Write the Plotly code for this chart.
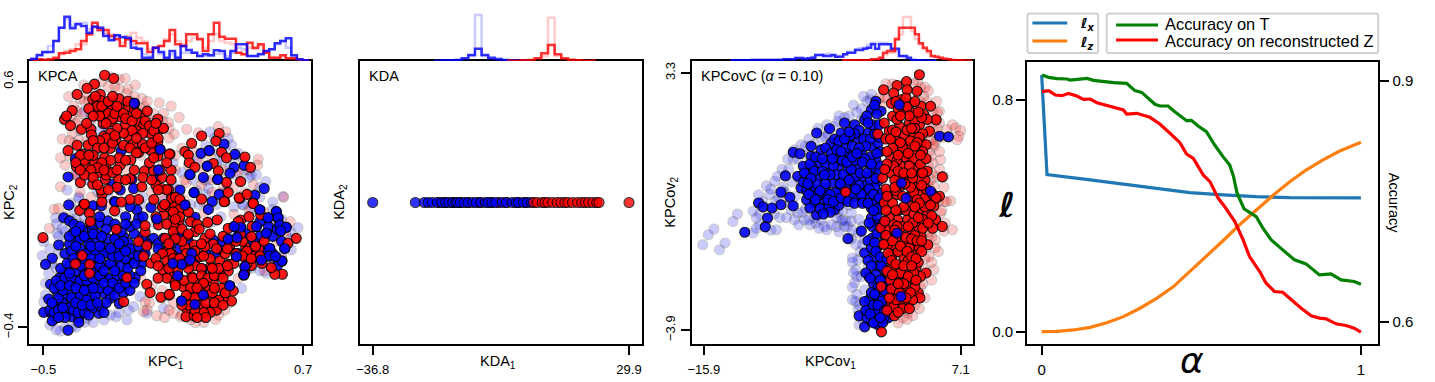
import plotly.graph_objects as go

W, H = 1435, 382
FONT = "Liberation Sans"

# ---------- KPCA scatter (KPC1, KPC2) ----------
KPCA_BLUE = [(-.406,.046),(-.379,.033),(-.359,.019),(-.363,-.017),(-.318,-.006),(-.244,.023),(-.201,.033),(-.275,.003),
(-.429,-.065),(-.379,-.062),(-.459,-.119),(-.490,-.144),(-.344,-.038),(-.298,-.038),(-.263,-.042),(-.221,-.072),(-.198,-.099),
(-.160,-.027),(-.129,-.031),(-.109,-.055),(-.160,-.119),(-.068,-.119),(-.106,-.140),(-.076,-.198),(-.171,-.157),(-.214,-.198),
(-.252,-.173),(-.313,-.180),(-.375,-.176),(-.406,-.180),(-.425,-.198),(-.390,-.221),(-.467,-.225),(-.349,-.211),(-.329,-.241),
(-.290,-.241),(-.252,-.217),(-.221,-.262),(-.183,-.248),(-.156,-.225),(-.114,-.228),(-.191,-.282),(-.149,-.303),(-.278,-.269),
(-.313,-.285),(-.352,-.282),(-.398,-.273),(-.436,-.255),(-.475,-.285),(-.444,-.303),(-.498,-.339),(-.462,-.343),(-.413,-.330),
(-.390,-.343),(-.367,-.357),(-.336,-.361),(-.293,-.320),(-.244,-.343),(-.444,-.363),(-.386,-.412),(-.336,-.380),(-.459,-.374),
(-.413,-.298),(-.375,-.316),(-.336,-.316),(-.260,-.296),(-.383,-.248),(-.290,-.207),(-.336,-.106),(-.283,-.085),(-.244,-.106),
(-.375,-.140),(-.306,-.146),(-.214,-.146),(-.137,-.085),(-.045,-.140),(.009,-.038),(.032,-.058),(.055,-.038),(.096,-.144),
(.024,.041),(-.068,.078),(-.099,.091),(-.060,.044),(-.171,.112),(-.003,.088),(.109,-.024),
(-.080,.512),(-.352,.286),(-.386,.212),(-.383,.098),(-.140,.319),(.000,.342),(.039,.324),(.031,.240),(.016,.210),(-.091,.202),
(-.083,.165),(-.180,.183),(-.145,.159),(-.270,.095),(-.232,.095),(-.168,.110),
(.154,.098),(.280,.112),(.262,.080),(.200,.048),(.500,.078),(.576,.071),(.584,.046),(.538,.046),(.592,.017),(.622,.007),
(.412,.007),(.381,.010),(.484,.010),(.530,-.017),(.596,-.008),(.354,-.041),(.395,-.035),(.285,-.045),(.615,-.079),(.546,-.079),
(.543,-.110),(.602,-.130),(.431,-.153),(.426,-.187),(.392,-.112),(.507,-.126),(.308,-.085),(.113,-.027),(.185,-.099),(.177,-.126),
(.124,-.116),(.098,-.140),(.139,-.144),(.236,-.163),(.121,-.190),(.139,-.293),(.239,-.269),(.200,-.307),(.361,-.231),(.572,-.112),
(.334,.346),(.266,.319),(.228,.308),(.385,.304),(.257,.256),(.381,.251),(.428,.259),(.362,.227),(.239,.210),(.305,.202),(.177,.222),
(.131,.159),(.196,.148),(.312,.141),(.520,.165),(.477,.138),
(-.47,-.33),(-.45,-.34),(-.43,-.33),(-.40,-.36),(-.38,-.32),(-.36,-.33),(-.34,-.34),(-.31,-.34),(-.29,-.35),(-.27,-.32),(-.23,-.32),(-.21,-.30),
(-.43,-.28),(-.41,-.25),(-.37,-.28),(-.33,-.27),(-.30,-.29),(-.26,-.27),(-.24,-.24),(-.20,-.25),(-.17,-.27),(-.13,-.26),(-.10,-.25),(-.45,-.24),
(-.44,-.21),(-.40,-.20),(-.37,-.20),(-.33,-.21),(-.30,-.21),(-.27,-.20),(-.24,-.19),(-.19,-.20),(-.16,-.19),(-.13,-.19),(-.10,-.19),(-.05,-.17),
(-.42,-.16),(-.39,-.14),(-.35,-.17),(-.33,-.15),(-.27,-.14),(-.24,-.15),(-.19,-.14),(-.14,-.15),(-.12,-.12),(-.09,-.10),(-.04,-.10),(-.40,-.10),
(-.37,-.09),(-.33,-.08),(-.30,-.10),(-.26,-.09),(-.22,-.10),(-.17,-.08),(-.13,-.05),(-.10,-.08),(-.06,-.07),(-.02,-.06),(-.38,-.03),(-.33,-.04),
(-.29,-.06),(-.25,-.02),(-.20,-.04),(-.17,-.04),(-.08,-.02),(-.04,-.03),(-.33,.01),(-.28,.02),(-.24,.05),(-.21,.00),(-.17,.02),(-.12,.05),(-.10,.01),(-.04,.05),
(.50,.03),(.54,.01),(.56,-.03),(.58,.00),(.60,-.05),(.50,-.03),(.47,-.05),(.44,-.02),(.40,.00),(.36,-.08),(.40,-.10),(.47,-.10),(.52,-.08),(.56,-.10),
(.58,-.15),(.33,-.05),(.29,-.10),(.25,-.10),(.20,-.13),(.16,-.14),(.13,-.08),(.09,-.06),(.06,-.09),(.03,-.08),(.15,-.03),(.17,-.05),
(-.46,-.30),(-.43,-.36),(-.41,-.32),(-.35,-.30),(-.32,-.31),(-.28,-.31),(-.25,-.30),(-.22,-.34),(-.42,-.23),(-.38,-.23),(-.35,-.24),(-.31,-.25),(-.27,-.24),
(-.22,-.22),(-.18,-.22),(-.15,-.24),(-.12,-.22),(-.08,-.22),(-.38,-.18),(-.31,-.19),(-.28,-.17),(-.22,-.17),(-.17,-.17),(-.11,-.16),(-.08,-.14),(-.36,-.12),
(-.31,-.12),(-.28,-.12),(-.24,-.12),(-.18,-.11),(-.15,-.11),(-.12,-.09),(-.06,-.11),(-.35,-.07),(-.28,-.07),(-.24,-.07),(-.19,-.08),(-.15,-.06),(-.03,-.10),
(-.35,-.01),(-.31,-.03),(-.27,-.02),(-.23,-.03),(-.14,-.01),(-.12,.02),(-.07,.02)]

KPCA_RED = [(-.217,.626),(-.175,.613),(-.264,.590),(-.298,.573),(-.344,.548),(-.237,.548),(-.272,.528),(-.252,.518),(-.232,.522),
(-.194,.505),(-.367,.482),(-.402,.446),(-.375,.421),(-.393,.460),(-.244,.484),(-.221,.487),(-.221,.460),(-.183,.484),(-.140,.490),
(-.106,.498),(-.080,.482),(-.186,.437),(-.149,.457),(-.224,.430),(-.122,.423),(-.053,.464),(-.056,.434),(-.037,.423),(.029,.448),
(.050,.410),(-.106,.457),(-.324,.406),(-.280,.406),(-.278,.384),(-.293,.342),(-.344,.341),(-.386,.319),(-.221,.378),(-.165,.362),
(-.191,.328),(-.068,.400),(-.109,.378),(-.086,.345),(-.042,.345),(-.060,.311),(-.004,.389),(.029,.355),(-.003,.319),(.085,.305),
(.029,.297),(-.321,.305),(-.275,.294),(-.263,.274),(-.306,.254),(-.347,.254),(-.217,.290),(-.211,.254),(-.202,.233),(-.248,.229),
(-.145,.260),(-.096,.281),(-.033,.236),(.009,.237),(.090,.240),(-.329,.189),(-.272,.182),(-.214,.202),(-.229,.141),(-.234,.159),
(-.152,.202),(-.099,.206),(-.045,.172),(.020,.179),(.047,.165),(.078,.161),(.093,.129),(.078,.094),(.116,.094),(-.313,.100),
(-.502,-.035),(-.321,-.108),(-.286,-.144),(-.287,-.180),(-.352,-.142),(-.114,-.198),(-.171,.074),(-.332,.076),(-.310,.102),
(-.287,.064),(-.283,.030),(-.163,-.001),(-.060,-.051),(-.030,-.013),(-.030,.014),(-.022,-.068),(.055,.057),(.101,.046),(.078,.091),
(-.037,-.112),(-.003,-.139),(.052,-.167),(.085,-.187),(.109,-.221),(-.022,-.225),(-.007,-.259),(.043,-.278),(.081,-.269),(.078,-.085),
(.093,-.103),(.063,-.038),(.109,.017),(.032,.017),(-.129,-.296),
(.668,-.038),(.630,-.058),(.604,-.184),(.569,-.184),(.553,-.157),(.495,-.081),(.435,-.076),(.472,-.112),(.461,-.031),(.431,-.112),
(.461,-.149),(.361,-.068),(.285,-.062),(.246,-.038),(.246,-.072),(.197,-.065),(.200,-.011),(.165,-.027),(.154,-.075),(.085,-.099),
(.224,-.112),(.315,-.130),(.354,-.144),(.354,-.171),(.318,-.187),(.273,-.153),(.282,-.187),(.185,-.194),(.108,-.217),(.147,-.235),
(.082,-.266),(.216,-.221),(.239,-.221),(.190,-.252),(.285,-.221),(.323,-.241),(.285,-.282),(.254,-.327),(.177,-.282),(.162,-.323),
(.159,-.357),(.196,-.353),(.297,-.316),(.377,-.252),(.369,-.293),(.331,-.282),(.303,.037),(.259,.027),(.412,.037),(.354,.003),
(.464,.010),(.231,.122),(.338,.112),(.093,.125),(.131,.118),(.127,.033),(.104,.010),(.408,.125),(.469,.105),(.504,.057),
(.231,.379),(.312,.389),(.297,.358),(.185,.349),(.082,.305),(.154,.315),(.170,.301),(.174,.270),(.200,.251),(.323,.313),(.346,.290),
(.285,.267),(.308,.237),(.431,.293),(.457,.251),(.346,.190),(.411,.193),(.354,.149),(.404,.127),(.441,.141),(.469,.104),(.335,.111),
(.055,.410),(.108,.091),
(-.26,.54),(-.25,.50),(-.23,.50),(-.20,.47),(-.24,.46),(-.18,.45),(-.21,.43),(-.17,.47),(-.13,.47),(-.12,.45),(-.09,.44),(-.07,.47),(-.03,.44),(-.01,.42),
(.01,.40),(-.04,.39),(-.09,.40),(-.13,.39),(-.16,.41),(-.19,.39),(-.21,.37),(-.24,.36),(-.27,.36),(-.25,.33),(-.22,.33),(-.18,.35),(-.13,.34),(-.10,.33),
(-.07,.31),(-.03,.33),(.00,.35),(.03,.37),(-.15,.29),(-.19,.28),(-.23,.27),(-.27,.30),(-.25,.25),(-.28,.24),(-.31,.28),(-.33,.30),(-.35,.27),(-.31,.22),
(-.27,.21),(-.21,.22),(-.18,.23),(-.16,.17),(-.20,.16),(-.25,.18),(-.23,.11),(-.12,.20),(-.08,.24),(-.04,.21),(.00,.20),(-.01,.27),(.05,.21),(.09,.20),
(.07,.27),(.11,.13),(.13,.08),(.13,.05),(.10,.07),(.05,.09),(.01,.12),(-.06,.12),(-.10,.12),(-.14,.11),
(.07,.02),(.10,-.01),(.14,.00),(.18,.03),(.21,.02),(.17,-.02),(.14,-.05),(.11,-.04),(.08,-.06),(.05,-.10),(.02,-.12),(.07,-.13),(.10,-.12),(.12,-.17),
(.07,-.20),(.03,-.20),(.16,-.10),(.20,-.09),(.23,-.06),(.20,-.15),(.23,-.16),(.17,-.16),(.15,-.21),(.19,-.20),(.23,-.19),(.26,-.20),(.29,-.19),(.31,-.16),
(.34,-.10),(.27,-.12),(.30,-.08),(.26,-.25),(.23,-.26),(.20,-.28),(.18,-.24),(.22,-.31),(.25,-.30),(.28,-.26),(.31,-.29),(.34,-.26),(.30,-.33),(.27,-.34),
(.24,-.34),(.20,-.33),(.17,-.31),(.14,-.31),(.16,-.27),(.11,-.23),(.39,-.10),(.42,-.05),(.39,-.05),(.44,-.09),(.48,-.07),(.50,-.11),(.44,-.14),(.38,-.14),
(.33,-.03),(.40,.03),(.45,.05),(.52,-.05),
(-.29,.49),(-.27,.46),(-.30,.43),(-.15,.53),(-.20,.52),(-.18,.54),(-.11,.52),(-.16,.50),(-.08,.51),(-.02,.48),(.02,.43),(-.17,.38),(-.07,.37),(.01,.29),
(-.29,.30),(-.22,.24),(-.16,.24),(-.12,.28),(-.33,.24),(.04,.24),(.07,.16),(.11,.04),(.03,.16),(.02,.05),(.06,.10),(.13,.12),(.17,.07),(.22,.00),(.27,-.02),
(.03,-.15),(.08,-.16),(.13,-.12),(.17,-.13),(.24,-.11),(.28,-.16),(.33,-.20),(.35,-.15),(.29,-.24),(.24,-.22),(.21,-.24),(.25,-.36),(.21,-.36),(.29,-.30),
(.33,-.31),(.35,-.08),(.42,-.11),(.46,-.12),(.51,-.14),(.41,-.02),(.43,-.18)]

KPCA_BLUE_TOP = [(.412,.007),(.431,-.153),(.426,-.187),(.602,-.130),(.239,-.269),(.266,.319),(.257,.256),(.177,.222),(.305,.202),
(.039,.324),(.031,.240),(-.080,.512),(.196,.148),(.121,-.190),(.024,.041),(.154,.098),(.500,.078),(.576,.071),(.584,.046),(.538,.046),
(.592,.017),(.622,.007),(.381,.010),(.484,.010),(.530,-.017),(.596,-.008),(.354,-.041),(.395,-.035),(.615,-.079),(.546,-.079),(.543,-.110),
(.507,-.126),(.392,-.112),(.185,-.099),(.177,-.126),(.139,-.144),(.098,-.140),(.139,-.293),(.200,-.307),(.361,-.231),(.572,-.112)]

KPCA_PALE_RED = [(.035,.514),(.090,.501),(.055,.471),(.127,.455),(.078,.434),(.104,.387),(.162,.406),(.216,.392),(.308,.417),(.342,.396),
(.492,.284),(-.076,.586),(-.122,.613),(-.313,.586),(-.383,.539),(-.413,.366),(-.421,.172),(-.429,.084),(-.367,.389),(-.337,.362),
(-.045,.532),(-.033,.498),(-.114,.552),(-.129,.512),(.101,-.343),(.134,-.357),(.296,-.368),(.203,-.381),(.338,-.330),(-.037,-.336),
(.024,-.353),(-.030,-.296),(-.472,.003),(-.150,.610),(-.190,.620),(-.345,.480),(-.280,.440),(-.330,.400),(-.360,.350),(-.380,.300),
(-.260,.350),(-.240,.300),(-.200,.420),(-.160,.400),(-.120,.350),(-.050,.300),(.050,.280),(.110,.240),(.150,.200),(.230,.180),
(.280,.150),(.050,.130),(.180,.050),(.240,.060),(.050,-.250),(.100,-.300),(-.010,-.300),(.250,-.350),(.320,-.260),(.550,-.150),
(.620,-.020),(.520,.070),(.640,.030),(.610,.130),(.160,.190),(.330,.240),(-.340,.440),(-.310,.520),(-.300,.360),(-.400,.260),
(-.340,.220),(-.290,.250),(-.080,.420),(.000,.430),(.040,.300),(.120,.160),(.020,.090),(-.020,.250),(-.180,.280),(-.120,.240),
(-.40,.45),(-.36,.50),(-.33,.53),(-.30,.55),(-.26,.58),(-.23,.60),(-.17,.58),(-.11,.57),(-.08,.54),(-.05,.49),(-.02,.45),(.01,.47),(.03,.40),(.08,.37),
(.14,.33),(.19,.32),(.11,.30),(.17,.26),(.22,.28),(.27,.30),(.24,.24),(.28,.20),(.34,.20),(.40,.23),(.45,.24),(.49,.26),(.47,.18),(.43,.15),(.38,.17),
(.33,.17),(.24,.11),(.15,.12),(.11,.09),(.08,.15),(.00,.15),(-.08,.15),(-.15,.17),(-.20,.10),(-.28,.13),(-.33,.15),(-.25,.06),(-.45,.08),(-.40,.05),
(-.33,-.10),(-.30,-.18),(.03,-.10),(.00,-.23),(.05,-.28),(.08,-.33),(.14,-.35),(.18,-.37),(.24,-.38),(.31,-.35),(.36,-.30),(.40,-.20),(.44,-.16),(.52,-.17),
(.58,-.05),(.60,-.12),(.55,.04),(.45,.08),(.38,.06),(.30,-.08),(.26,.02),(.12,-.04),(.18,-.10),(.22,-.27),(-.05,-.20),(-.02,-.33),(.06,-.36),
(-.37,.46),(-.35,.43),(-.32,.47),(-.29,.52),(-.20,.58),(-.15,.57),(-.10,.52),(-.02,.52),(.05,.44),(.08,.41),(.02,.36),(-.38,.36),(-.42,.29),(-.36,.22)]

KPCA_PALE_BLUE = [(-.444,.046),(-.505,-.108),(-.498,-.051),(-.413,.003),(-.490,-.268),(-.421,-.415),(-.367,-.397),(-.298,-.364),
(-.165,-.357),(-.114,-.370),(-.083,-.316),(-.106,-.330),(-.283,-.343),(-.053,-.275),(-.490,-.221),(-.022,-.343),(.055,-.323),
(-.375,.105),(-.336,.125),(-.436,-.017),(-.475,-.180),(-.498,-.296),(.676,.006),(.415,-.241),(.645,-.085),(.530,-.180),(.607,.132),
(.527,.193),(.484,.220),(.269,.396),(.354,.369),(.369,.342),(.400,.308),(.423,.281),(.254,.199),(.208,.159),(.262,.165),(.408,.132),
(.423,.098),(-.313,.478),(-.283,.444),(-.252,.322),(-.336,.131),(-.390,.159),(-.430,-.100),(-.440,-.160),(-.470,-.080),(-.400,-.050),
(-.350,.040),(-.300,.080),(-.250,.150),(-.200,.130),(-.300,-.010),(-.240,-.050),(.020,.020),(.100,.060),(.150,.020),(.240,.200),
(.300,.270),(.330,.280),(.390,.220),(.450,.210),(.500,.130),(.560,.110),(.640,-.040),(.600,-.110),(.550,.020),(.460,.080),
(.100,.180),(.020,.170),(-.040,.130),(-.120,.110),(-.060,.470),(-.220,.420),(-.280,.470),(-.300,.200),(.350,.160),(.300,.100),
(-.50,-.34),(-.47,-.39),(-.44,-.41),(-.40,-.40),(-.35,-.40),(-.31,-.38),(-.27,-.38),(-.22,-.37),(-.19,-.35),(-.15,-.34),(-.40,-.17),(-.46,-.14),(-.43,-.03),
(-.40,-.01),(-.44,.02),(-.37,.04),(-.31,.05),(-.28,.09),(-.36,.08),(-.33,.02),(-.22,.06),(-.16,.07),(-.18,-.06),(-.11,.03),(-.05,.10),(.02,.10),(.06,.12),
(.07,.02),(.12,.02),(.18,.10),(.22,.10),(.25,.14),(.32,.05),(.33,.15),(.38,.09),(.42,.10),(.46,.13),(.50,.17),(.56,.08),(.60,.04),(.64,-.01),(.62,-.07),
(.56,-.13),(.50,-.17),(.46,-.16),(.36,-.02),(.28,.03),(.19,.20),(.14,.23),(.21,.28),(.25,.34),(.29,.37),(.34,.33),(.38,.29),(.43,.24),(.46,.22),(.31,.31),
(.36,.25),(-.20,.40),(-.24,.40),(-.30,.31),(-.35,.22),(-.25,.25),(-.15,.33),(-.05,.37),(.03,.31),(.10,.27)]

# ---------- KDA scatter (KDA1, KDA2) ----------
KDA_RED_LOW = [-19.5,-18.0,-16.0,-14.0,-12.0,-9.0,-6.0,-4.0,-2.0,1.0,3.0]
KDA_BLUE = [-36.8,-25.7,-23.4,-22.4,-21.3,-20.0,-18.8,-17.8,-17.0,-16.0,-15.2,-14.7,-14.0,-13.0,-12.0,-10.8,-9.9,-8.7,-7.5,-6.8,
            -5.8,-4.8,-3.1,-2.0,-0.5,0.5,1.2,2.4,3.4,4.5]
KDA_RED_TOP = [5.1,6.0,7.3,8.0,8.8,10.0,11.2,12.2,13.2,14.0,15.2,16.5,17.6,18.5,19.4,20.5,21.5,22.1,29.9]

# ---------- KPCovC scatter (KPCov1, KPCov2) ----------
KPCOV_BLUE = [(-12.24,-1.16),(-11.0,-.34),(-10.6,-.45),(-9.8,-.48),(-9.0,-.04),(-9.0,-.39),(-8.2,-.18),(-7.9,-.42),(-10.2,-.76),(-10.4,-1.01),
(-8.6,.42),(-7.9,1.08),(-7.3,1.04),(-6.3,1.25),(-5.8,1.62),(-4.65,1.74),(-3.0,-1.34),(-7.5,.41),(-7.0,.69),(-6.3,.97),(-5.4,1.15),(-4.5,1.34),
(-3.6,1.62),(-3.3,1.90),(-2.4,1.85),(-1.5,1.99),(-.9,2.27),(-.5,2.51),(-.03,2.23),(-1.2,1.62),(-2.1,1.48),(-3.0,1.43),(-3.9,1.15),(-2.7,.97),
(-1.8,1.11),(-.9,1.25),(-.3,1.34),(-4.8,.87),(-5.6,.78),(-6.6,.41),(-5.6,.41),(-4.8,.50),(-3.9,.69),(-3.0,.59),(-2.1,.69),(-1.2,.78),(-.5,.87),
(-7.2,.08),(-6.4,.13),(-6.0,.03),(-5.2,.08),(-4.4,.22),(-3.5,.27),(-2.6,.27),(-1.7,.41),(-.8,.50),(-.3,.27),(-6.7,-.25),(-6.0,-.34),(-5.1,-.25),
(-4.2,-.53),(-5.8,-.67),(-5.1,-.48),(-3.3,-.25),(-2.3,-.15),(-1.3,-.01),(-.03,-.06),(-4.8,-.06),(-3.9,-.15),(-6.4,-.48),(-.9,-.48),(-.9,-.76),
(-1.8,-1.13),(-.8,-1.32),(.1,-1.18),(-.3,-1.55),(-1.5,-1.74),(-.3,-2.12),(-1.1,-2.4),(0.0,-2.49),(.6,-2.77),(-1.1,-3.05),(-2.0,-3.5),(-1.2,-3.33),
(-1.5,-3.81),(-.9,-3.66),(-.03,-3.33),(.6,-3.56),(-.3,-2.96),(.85,-1.74),(.25,-1.93),(.25,-2.21),(.7,-2.58),(-.5,-3.52),(.25,-.25),
(-3.0,1.05),(-4.1,.95),(-2.3,.40),(-1.4,.15),(-3.6,.02),(-5.0,.75),(-6.2,.65),(-2.0,1.70),(-1.0,.95),(-4.6,-.33),(-3.4,.85),(-1.6,-.3),
(-7.0,.25),(-6.7,.0),(-6.9,.5),(-6.4,.75),(-6.0,.55),(-5.9,.95),(-5.3,.9),(-5.0,1.2),(-4.5,1.05),(-4.2,1.45),(-3.8,1.4),(-3.2,1.2),(-2.6,1.25),(-2.4,1.6),
(-1.6,1.45),(-1.0,1.45),(-.6,1.6),(-.8,1.85),(-.2,1.85),(-.4,2.15),(-1.3,2.1),(-.1,1.1),(-1.4,1.25),(-2.0,1.2),(-3.5,.85),(-4.3,.7),(-5.3,.55),(-5.8,.2),
(-5.0,.2),(-4.0,.45),(-3.4,.45),(-2.7,.6),(-2.4,.85),(-1.5,.9),(-.6,.65),(-1.0,.3),(-.1,.7),(-.2,.5),(-.6,.1),(-1.1,.05),(-2.0,.15),(-2.9,.0),(-3.2,.1),
(-4.1,-.05),(-4.6,-.1),(-5.4,-.1),(-5.7,-.1),(-6.1,-.15),(-5.5,-.5),(-4.7,-.45),(-4.6,-.6),(-3.8,-.4),(-5.2,-.65),(-6.5,-.1),(-2.8,-.1),(-1.8,-.1),(-1.0,-.2),
(-.5,-.3),(-.1,-.45),(-.4,-.7),(-.3,-.95),(-.8,-1.0),(-.4,-1.2),(-1.2,-1.4),(-.9,-1.6),(-.6,-1.85),(.2,-1.45),(-1.2,-1.95),(-.9,-2.1),(-.5,-2.35),(.0,-2.1),
(-.7,-2.6),(-.3,-2.7),(.3,-2.55),(-.9,-2.85),(-.5,-3.15),(.15,-3.0),(.5,-3.25),(.2,-3.6),(-.3,-3.75),(-1.3,-3.55),(-.8,-3.2),(-1.5,-3.1),(-.4,-3.4),(0.1,-3.7),
(-4.4,.9),(-4.0,1.15),(-3.6,1.1),(-3.1,.8),(-2.6,.95),(-2.2,1.05),(-1.7,.8),(-.9,.75),(-.4,1.05),(-.15,1.5),(-1.2,1.9),(-.6,2.4),(-2.8,1.55),(-3.3,1.45),(-2.9,1.65),
(-1.9,.5),(-1.3,.5),(-.5,.35),(-2.3,.05),(-2.9,.3),(-3.7,.2),(-4.6,.45),(-5.1,.45),(-5.5,.0),(-5.9,-.25),(-6.3,.35),(-6.6,.2),(-4.8,-.25),(-4.3,-.3),(-3.6,-.2),
(-3.0,-.3),(-2.4,-.35),(-1.7,-.35),(-1.2,-.35),(-.7,-.1),(-.2,-.2),(-.3,-.5),(-.7,-.55),(-1.1,-.9),(-.6,-1.45),(-.1,-1.0),(.2,-.9),(-.5,-1.7),(-.1,-1.85),(.5,-1.9),
(-1.4,-2.3),(-1.0,-2.45),(-.1,-2.5),(.3,-2.8),(-.6,-2.9),(.0,-3.1),(-.3,-3.2),(.3,-3.35),(-1.4,-3.35),(-1.0,-3.45),(-.7,-3.7),(-.1,-3.55)]
KPCOV_BLUE_TOP = [(2.2,-.21),(1.8,.22),(1.4,-1.18),(4.4,-.01),(5.2,1.53),(6.0,1.51),(1.6,2.41),(1.75,-2.96)]
KPCOV_RED = [(3.4,3.25),(2.25,3.06),(1.4,2.95),(.2,2.83),(1.1,2.74),(2.3,2.83),(3.2,2.79),(1.75,2.55),(2.65,2.46),(3.55,2.37),(4.4,2.37),(4.9,1.99),
(3.8,2.13),(2.9,2.18),(2.0,2.23),(1.0,2.09),(.26,1.9),(-.33,1.59),(.7,1.67),(1.6,1.81),(2.5,1.9),(3.4,1.85),(4.3,1.67),(2.9,1.57),(2.0,1.53),(1.3,1.43),
(3.55,1.34),(4.0,1.29),(2.3,1.25),(1.45,1.15),(3.2,1.06),(2.45,.97),(.85,.92),(1.75,.69),(2.3,.45),(.85,.5),(.1,.36),(3.2,.64),(3.6,.5),(5.45,.39),
(2.55,.22),(1.6,.36),(.85,-.01),(5.2,-.15),(4.3,-.2),(4.7,-.43),(3.5,-.11),(2.6,-.15),(.25,-.34),(1.0,-.34),(1.6,-.53),(2.6,-.43),(3.5,-.53),(4.1,-.62),
(4.85,-.81),(5.45,-1.0),(4.1,-.95),(3.2,-1.0),(2.35,-.81),(1.45,-.81),(.7,-.72),(-.05,-1.04),(.7,-1.09),(1.6,-1.18),(2.65,-1.18),(3.55,-1.28),(4.15,-1.51),
(2.95,-1.51),(1.9,-1.46),(1.0,-1.55),(.55,-1.51),(1.0,-1.79),(2.0,-1.84),(2.95,-1.79),(1.6,-2.12),(1.0,-2.12),(2.2,-2.35),(4.0,-2.3),(3.1,-2.16),(1.3,-2.4),
(1.75,-2.58),(2.7,-2.54),(3.3,-2.86),(3.45,-3.0),(2.35,-2.86),(1.3,-2.91),(-.03,-2.68),(2.35,-3.19),(1.45,-3.19),(1.15,-3.5),(0.0,-3.95),(-3.2,-.03),
(3.0,1.95),(4.1,2.0),(2.2,2.6),(1.2,.3),(1.9,1.2),(3.9,.3),(2.2,-.55),(3.9,-.2),(1.9,-2.75),(3.4,-1.6),(2.1,.95),(1.4,-.1),(3.0,.1),
(.9,2.45),(1.3,2.5),(2.3,2.35),(3.0,2.5),(3.6,2.05),(2.5,2.1),(1.4,2.0),(1.0,1.7),(.4,1.45),(2.3,1.7),(3.0,1.75),(3.7,1.6),(3.4,1.5),(2.6,1.4),(1.7,1.35),
(1.0,1.2),(.5,1.1),(3.7,1.1),(2.9,.9),(1.4,.85),(1.1,.7),(.5,.75),(2.5,.7),(3.5,.75),(4.0,.9),(3.3,.35),(2.8,.35),(1.8,.15),(1.3,.0),(2.9,-.05),(3.2,-.25),
(4.0,.05),(4.6,-.1),(3.9,-.45),(4.5,-.7),(3.7,-.8),(2.9,-.65),(2.0,-.45),(1.3,-.55),(.4,-.55),(1.1,-.95),(1.9,-1.0),(2.8,-.9),(4.6,-1.05),(3.7,-1.05),(3.0,-1.25),
(2.2,-1.3),(.4,-1.25),(1.3,-1.3),(2.5,-1.6),(3.6,-1.7),(1.5,-1.7),(.6,-1.75),(.9,-1.95),(2.4,-1.95),(3.3,-2.0),(3.5,-2.4),(2.9,-2.3),(1.7,-2.3),(.5,-2.25),
(.8,-2.5),(2.2,-2.65),(.9,-2.75),(1.6,-2.85),(3.0,-2.7),(1.8,-3.1),(.9,-3.15),(2.8,-3.05),(1.1,-3.25),(1.9,-3.3),(.5,-3.35),
(.3,.6),(.4,.05),(.5,-.15),(1.5,.55),(2.0,.5),(2.6,.1),(3.6,.15),(4.1,.55),(4.9,-.2),(4.4,-.4),(4.2,-.9),(3.3,-.75),(2.4,-1.0),(1.4,-1.0),(.3,-.85),(.2,-1.5),(1.2,-1.1),
(2.7,-1.35),(3.2,-1.4),(3.6,-1.4),(1.0,-1.4),(1.7,-1.55),(2.3,-1.7),(2.7,-1.85),(3.1,-1.9),(1.3,-2.05),(2.0,-2.1),(2.7,-2.1),(1.0,-2.35),(2.4,-2.4),(2.0,-2.6),(1.5,-2.6),
(2.6,-2.85),(3.1,-2.5),(1.3,-3.05),(2.2,-3.0),(.7,-3.0),(2.5,-3.3),(1.5,-3.4),(3.3,2.2),(1.5,2.3),(1.7,2.1),(2.7,1.75),(3.2,1.35),(2.4,1.05),(1.5,1.0),(.8,1.45),(1.3,1.65),
(3.0,1.25),(3.5,1.0),(3.7,.5),(2.7,.5),(1.2,.1),(2.1,.2),(1.9,-.15),(3.4,-.35),(3.0,-.45)]
KPCOV_PALE_BLUE = [(-16.0,-1.51),(-15.5,-1.23),(-15.0,-1.07),(-14.5,-1.65),(-14.0,-1.46),(-13.3,-.86),(-12.9,-.65),(-11.5,-.57),(-11.2,-.76),(-11.0,-.11),
(-10.3,.14),(-9.55,.27),(-9.4,-1.09),(-11.5,-1.18),(-7.8,-.81),(-6.9,-.81),(-4.9,-1.09),(-3.45,-.81),(-2.7,-.62),(-2.4,-2.58),(-2.6,-3.05),(-2.1,-1.93),
(-2.6,-1.88),(-7.9,.87),(-8.4,.89),(-7.2,1.29),(-4.2,1.81),(-1.3,2.51),(-9.3,.41),(-8.1,-.53),(-7.5,-.62),(-6.0,-.76),(-5.4,-.81),(-3.0,-1.0),(-2.1,-1.18),
(-1.5,-1.37),(-1.2,-2.12),(-1.8,-2.4),(-1.5,-2.77),(-2.1,-3.33),(-9.5,-.3),(-10.0,-.1),(-8.8,.1),(-8.3,.6),(-6.8,1.25),(-5.4,1.5),(-3.9,1.95),(-2.9,2.1),
(-1.8,2.3),(-3.6,-.85),(-2.9,-.4),(-3.9,-.6),(-2.3,-2.2),(-1.7,-1.5),
(-7.5,.9),(-6.7,1.0),(-6.0,1.3),(-5.0,1.5),(-3.3,2.05),(-2.2,2.2),(-1.0,2.55),(-8.6,-.05),(-7.7,-.15),(-6.8,-.5),(-5.9,-.9),(-5.1,-1.0),(-4.0,-.75),(-3.5,-.55),
(-3.2,-.85),(-2.6,-1.1),(-2.7,-1.35),(-2.3,-1.5),(-2.6,-2.0),(-2.2,-2.4),(-2.2,-2.9),(-2.0,-3.2),(-2.6,-2.7),(-1.9,-1.7),(-10.6,-.3),(-10.9,-.65),(-9.6,-.65),
(-9.1,-.75),(-8.5,-.75),(-7.4,-.95),(-8.8,.0),(-9.9,.05),(-11.2,-1.05),(-10.9,-.95),(-9.9,-1.1),(-7.3,.3),(-6.5,-.8),(-1.8,2.0),(-2.8,1.8),(-4.8,1.6),
(-4.0,-1.0),(-3.3,-1.0),(-3.8,-1.15),(-4.5,-.95),(-5.6,-1.05),(-6.4,-.95),(-7.1,-.6),(-8.2,-.35),(-9.2,-.2),(-8.0,.25),(-8.9,.6),(-7.8,1.15),(-6.5,1.45),(-5.7,1.75),
(-4.9,1.85),(-3.8,2.1),(-2.5,2.4),(-1.6,2.65),(-.9,2.7),(-2.7,-.85),(-2.0,-.8),(-1.7,-1.0),(-2.3,-3.1),(-2.5,-2.3),(-1.7,-3.6),(-2.0,-3.75)]
KPCOV_PALE_RED = [(6.35,1.85),(5.85,1.71),(6.65,1.76),(7.1,1.69),(6.95,1.53),(6.8,1.43),(4.95,2.51),(5.2,2.23),(5.3,.87),(4.6,.78),(6.2,-.28),(6.35,-1.09),
(5.6,-1.13),(4.7,-2.21),(4.25,-1.84),(3.25,3.07),(.55,2.6),(2.0,2.97),(4.75,1.25),(4.45,.97),(4.7,.13),(5.3,-.62),(4.85,-1.37),(4.45,.31),(3.8,.87),
(2.35,-3.42),(1.9,-3.56),(4.3,1.1),(4.1,1.6),(4.9,1.6),(5.2,1.9),(5.6,.1),(5.1,-.3),(4.2,-1.25),(3.9,-1.9),(3.7,-2.6),(4.6,2.2),(3.8,2.65),
(4.9,2.0),(4.9,1.4),(5.2,1.1),(5.0,.4),(5.2,.6),(5.6,.4),(5.8,-.3),(5.7,-.9),(5.1,-1.7),(4.5,-2.0),(4.5,-2.5),(3.9,-3.0),(3.4,-3.3),(2.8,-3.5),(1.0,3.0),(.4,3.0),
(2.9,3.0),(3.5,2.9),(4.2,2.8),(5.0,2.2),(4.4,1.4),(5.6,-.3),(5.4,-.55),(4.8,-1.6),(5.0,1.75),(5.5,1.5),(4.2,-1.15),(-.2,2.6),(.0,2.4),(.3,2.6),
(3.9,2.9),(3.5,2.5),(4.1,2.5),(4.6,1.9),(4.5,.5),(4.2,.2),(4.8,-.2),(5.0,-.9),(4.5,-1.3),(4.0,-1.6),(3.8,-2.2),(3.5,-2.7),(3.0,-3.2),(2.3,-3.6),(1.5,-3.7),(4.1,1.9),(4.6,1.3),(4.2,.7)]

# ---------- marginal histograms (bar heights per bin) ----------
KPCA_BIN_START, KPCA_BIN_WIDTH = -0.556, 0.02556
KPCA_H_BLUE = [7,18,27,27,60,100,133,98,110,105,85,103,100,75,62,77,72,70,40,37,10,10,40,27,10,30,10,45,33,25,15,20,17,32,30,7,30,50,50,15,15,20,30,35,53,60,68,17,5,2]
KPCA_H_RED = [2,5,3,5,10,23,25,30,35,60,80,115,93,93,75,65,45,65,60,53,53,27,40,45,60,93,50,45,80,80,65,30,80,115,73,67,67,25,20,55,40,50,25,10,10,17,8,8,3,2]
KPCA_H_PALE_BLUE = [5,15,25,45,60,100,125,105,115,115,95,105,90,80,70,75,70,65,50,35,20,15,40,20,10,20,12,25,25,25,15,15,15,22,22,15,25,40,35,15,15,22,30,35,50,60,40,15,5,2]
KPCA_H_PALE_RED = [2,3,3,5,8,20,30,35,50,50,80,100,100,85,80,70,55,75,85,70,60,35,35,45,65,80,60,50,60,70,70,40,60,80,60,55,50,25,20,40,35,45,25,12,10,12,8,6,3,2]

KDA_BIN_START, KDA_BIN_WIDTH = -39.57, 1.728
KDA_H_BLUE = [0,0,0,0,0,0,0,0,0,0,0,1,2,2,3,8,18,37,18,10,6,3,2,1,1,0,0,0,0,0,0,0,0,0,0,0,0,0,0,0,0,0]
KDA_H_RED = [0,0,0,0,0,0,0,0,0,0,0,0,0,0,0,0,0,0,0,0,0,0,1,1,2,3,8,23,48,20,8,4,2,1,1,0,0,0,0,0,0,0]
KDA_H_PALE_BLUE = [0,0,0,0,0,0,0,0,0,0,0,0,0,1,2,5,15,138,15,5,3,1,0,0,0,0,0,0,0,0,0,0,0,0,0,0,0,0,0,0,0,0]
KDA_H_PALE_RED = [0,0,0,0,0,0,0,0,0,0,0,0,0,0,0,0,0,0,0,0,0,0,0,0,1,2,5,15,130,15,5,2,1,0,0,0,0,0,0,0,0,0]

KPCOV_BIN_START, KPCOV_BIN_WIDTH = -16.99, 0.357
KPCOV_H_BLUE = [0,0,0,0,0,0,0,0,0,0,2,2,2,2,2,3,3,3,3,3,3,3,3,5,5,5,9,9,5,8,10,18,18,15,15,17,13,13,20,25,25,33,33,37,40,50,37,50,50,50,37,37,15,15,10,3,2,2,1,1,1,0,0,0,0,0,0,0,0,0]
KPCOV_H_RED = [0,0,0,0,0,0,0,0,0,0,0,0,0,0,0,0,0,0,0,0,0,0,0,0,0,0,0,0,0,0,0,0,0,0,0,0,0,0,2,2,2,2,2,2,2,5,5,10,25,30,30,65,100,100,100,100,80,53,40,30,15,13,10,7,5,3,2,2,1,1]
KPCOV_H_PALE_BLUE = [0,0,0,0,0,0,0,0,0,0,3,3,3,3,3,3,4,4,4,4,4,4,4,6,6,6,9,9,8,9,12,18,18,20,22,20,15,15,20,28,28,36,38,40,48,55,52,55,55,50,36,30,15,12,8,3,2,2,1,1,1,0,0,0,0,0,0,0,0,0]
KPCOV_H_PALE_RED = [0,0,0,0,0,0,0,0,0,0,0,0,0,0,0,0,0,0,0,0,0,0,0,0,0,0,0,0,0,0,0,0,0,0,0,0,0,0,1,1,1,2,2,3,3,5,6,10,18,25,25,70,80,132,132,90,65,50,35,25,14,12,9,6,4,3,2,2,1,1]

# ---------- loss / accuracy curves ----------
ALPHA_LX = [0.0,.0167,.152,.256,.36,.464,.568,.672,.776,.88,1.0]
LOSS_X = [.886,.542,.524,.51,.494,.48,.472,.466,.463,.462,.462]
ALPHA_LZ = [0.0,.048,.1,.152,.204,.256,.308,.36,.412,.464,.516,.568,.62,.672,.724,.776,.828,.88,.932,1.0]
LOSS_Z = [0.0,.001,.006,.015,.031,.052,.081,.115,.155,.207,.259,.314,.369,.42,.47,.517,.558,.592,.623,.654]
ALPHA_T = [.001,.022,.048,.079,.089,.110,.142,.162,.194,.225,.266,.292,.313,.334,.355,.370,.396,.417,.438,.454,.469,.490,.516,.542,.568,.589,.601,.612,.634,.672,.693,.719,.755,.792,.828,.870,.906,.938,.979,1.0]
ACC_T = [.9075,.9046,.9029,.9025,.9012,.9021,.9033,.9008,.8992,.8979,.8971,.888,.8859,.8784,.871,.8689,.8689,.8618,.8556,.8506,.851,.844,.8369,.8203,.8058,.7954,.7809,.7602,.7407,.7311,.7166,.7021,.6896,.6772,.6722,.6585,.6598,.6523,.6502,.6469]
ALPHA_Z = [.001,.022,.043,.063,.084,.110,.131,.152,.173,.199,.230,.256,.266,.298,.339,.370,.402,.433,.454,.475,.506,.527,.553,.573,.605,.631,.651,.683,.703,.729,.755,.787,.813,.844,.870,.891,.922,.953,.979,1.0]
ACC_Z = [.8867,.888,.8826,.8817,.8846,.8813,.8772,.8776,.873,.8701,.8668,.8639,.8589,.8598,.8548,.8465,.8349,.8232,.8091,.8037,.783,.7747,.7539,.7436,.7249,.7021,.6813,.6627,.6481,.6378,.6369,.6253,.617,.6075,.6046,.6037,.5975,.5954,.5921,.5871]

# ---------- axes ----------
PANELS = [
    dict(px=(25, 308), xr=(-.5667, .7359), yr=(-.468, .684), xt=[-.5, .7], yt=[-.4, .6], xl=["−0.5", "0.7"], yl=["−0.4", "0.6"]),
    dict(px=(357, 640.7), xr=(-40.17, 33.4), yr=(-1, 1), xt=[-36.8, 29.9], yt=[], xl=["−36.8", "29.9"], yl=[]),
    dict(px=(690, 972.7), xr=(-17.0, 8.23), yr=(-4.29, 3.636), xt=[-15.9, 7.1], yt=[-3.9, 3.3], xl=["−15.9", "7.1"], yl=["−3.9", "3.3"]),
]
BOT, TOP = 344.0, 61.0
HTOP = 5.0

def fx(p): return p / W
def fy(p): return 1 - p / H

fig = go.Figure()
layout = dict(width=W, height=H, margin=dict(l=0, r=0, t=0, b=0), paper_bgcolor="white", plot_bgcolor="white",
              font=dict(family=FONT, size=13, color="black"), showlegend=False, annotations=[], shapes=[])

def axis_common(size=13):
    return dict(showgrid=False, zeroline=False, showline=True, linecolor="black", linewidth=2, mirror=True,
                ticks="outside", ticklen=9, tickwidth=2, tickcolor="black", tickfont=dict(family=FONT, size=size, color="black"))

for i, p in enumerate(PANELS):
    a = 2 * i + 1
    b = 2 * i + 2
    dom = [fx(p["px"][0]), fx(p["px"][1])]
    layout[f"xaxis{a}"] = dict(axis_common(), domain=dom, range=p["xr"], tickmode="array", tickvals=p["xt"], ticktext=p["xl"],
                               anchor=f"y{a}", ticklabelstandoff=3)
    layout[f"yaxis{a}"] = dict(axis_common(), domain=[fy(BOT), fy(TOP)], range=p["yr"], tickmode="array", tickvals=p["yt"],
                               ticktext=p["yl"], tickangle=-90, anchor=f"x{a}")
    layout[f"xaxis{b}"] = dict(visible=False, domain=dom, range=p["xr"], anchor=f"y{b}")
    layout[f"yaxis{b}"] = dict(visible=False, domain=[fy(TOP), fy(HTOP)], range=[0, 168], anchor=f"x{b}")

def scatter(pts, color, ax, opacity):
    xs = [q[0] for q in pts]
    ys = [q[1] for q in pts]
    fig.add_trace(go.Scatter(x=xs, y=ys, mode="markers", xaxis=f"x{ax}", yaxis=f"y{ax}", hoverinfo="skip",
                             marker=dict(size=10, color=color, opacity=opacity, line=dict(color="black", width=1.1))))

def hist(start, width, heights, color, ax, opacity, lw):
    used = [k for k, v in enumerate(heights) if v > 0]
    first, last = used[0], used[-1]
    edges = [start + width * k for k in range(first, last + 2)]
    vals = list(heights[first:last + 1])
    xs = [edges[0]] + edges
    ys = [0] + vals + [vals[-1], 0]
    xs = xs + [edges[-1]]
    ys = ys[:len(xs)]
    fig.add_trace(go.Scatter(x=xs, y=ys, mode="lines", line=dict(color=color, width=lw, shape="hv"), opacity=opacity,
                             xaxis=f"x{ax}", yaxis=f"y{ax}", hoverinfo="skip"))

BLUE, RED = "rgb(0,0,255)", "rgb(255,0,0)"

# panel 1
scatter(KPCA_PALE_BLUE, BLUE, 1, .2)
scatter(KPCA_PALE_RED, RED, 1, .2)
scatter(KPCA_BLUE, BLUE, 1, .9)
scatter(KPCA_RED, RED, 1, .9)
scatter(KPCA_BLUE_TOP, BLUE, 1, .9)
hist(KPCA_BIN_START, KPCA_BIN_WIDTH, KPCA_H_PALE_BLUE, BLUE, 2, .2, 2.5)
hist(KPCA_BIN_START, KPCA_BIN_WIDTH, KPCA_H_PALE_RED, RED, 2, .2, 2.5)
hist(KPCA_BIN_START, KPCA_BIN_WIDTH, KPCA_H_RED, RED, 2, .8, 2.5)
hist(KPCA_BIN_START, KPCA_BIN_WIDTH, KPCA_H_BLUE, BLUE, 2, .8, 2.5)

# panel 2
zero = lambda v: [(q, 0.0) for q in v]
scatter(zero(KDA_RED_LOW), RED, 3, .8)
scatter(zero(KDA_BLUE), BLUE, 3, .8)
scatter(zero(KDA_RED_TOP), RED, 3, .8)
hist(KDA_BIN_START, KDA_BIN_WIDTH, KDA_H_PALE_BLUE, BLUE, 4, .2, 2.5)
hist(KDA_BIN_START, KDA_BIN_WIDTH, KDA_H_PALE_RED, RED, 4, .2, 2.5)
hist(KDA_BIN_START, KDA_BIN_WIDTH, KDA_H_BLUE, BLUE, 4, .8, 2.5)
hist(KDA_BIN_START, KDA_BIN_WIDTH, KDA_H_RED, RED, 4, .8, 2.5)

# panel 3
scatter(KPCOV_PALE_BLUE, BLUE, 5, .2)
scatter(KPCOV_PALE_RED, RED, 5, .2)
scatter(KPCOV_BLUE, BLUE, 5, .9)
scatter(KPCOV_RED, RED, 5, .9)
scatter(KPCOV_BLUE_TOP, BLUE, 5, .9)
hist(KPCOV_BIN_START, KPCOV_BIN_WIDTH, KPCOV_H_PALE_BLUE, BLUE, 6, .2, 2.5)
hist(KPCOV_BIN_START, KPCOV_BIN_WIDTH, KPCOV_H_PALE_RED, RED, 6, .2, 2.5)
hist(KPCOV_BIN_START, KPCOV_BIN_WIDTH, KPCOV_H_BLUE, BLUE, 6, .8, 2.5)
hist(KPCOV_BIN_START, KPCOV_BIN_WIDTH, KPCOV_H_RED, RED, 6, .8, 2.5)

# panel 4
dom4 = [fx(1026.7), fx(1379.3)]
layout["xaxis7"] = dict(axis_common(15), domain=dom4, range=(-.0456, 1.055), tickmode="array", tickvals=[0, 1], ticktext=["0", "1"],
                        anchor="y7", ticklabelstandoff=2)
layout["yaxis7"] = dict(axis_common(15), domain=[fy(344.3), fy(62)], range=(-.0435, .931), tickmode="array", tickvals=[0, .8],
                        ticktext=["0.0", "0.8"], anchor="x7", ticklabelstandoff=0)
layout["yaxis8"] = dict(axis_common(15), domain=[fy(344.3), fy(62)], range=(.572, .9237), tickmode="array", tickvals=[.6, .9],
                        ticktext=["0.6", "0.9"], anchor="x7", overlaying="y7", side="right", ticklabelstandoff=0)
layout["yaxis8"]["mirror"] = False

LW = 3.2
COL_LX, COL_LZ, COL_T, COL_Z = "#1f77b4", "#ff7f0e", "#008000", "#ff0000"
fig.add_trace(go.Scatter(x=ALPHA_LX, y=LOSS_X, mode="lines", name="l_x", line=dict(color=COL_LX, width=LW), xaxis="x7", yaxis="y7"))
fig.add_trace(go.Scatter(x=ALPHA_LZ, y=LOSS_Z, mode="lines", name="l_z", line=dict(color=COL_LZ, width=LW), xaxis="x7", yaxis="y7"))
fig.add_trace(go.Scatter(x=ALPHA_T, y=ACC_T, mode="lines", name="Accuracy on T", line=dict(color=COL_T, width=LW), xaxis="x7", yaxis="y8"))
fig.add_trace(go.Scatter(x=ALPHA_Z, y=ACC_Z, mode="lines", name="Accuracy on reconstructed Z", line=dict(color=COL_Z, width=LW), xaxis="x7", yaxis="y8"))

def note(text, x, y, size=14.5, angle=0, xanchor="center", family=FONT):
    layout["annotations"].append(dict(text=text, x=fx(x), y=fy(y), xref="paper", yref="paper", showarrow=False, textangle=angle,
                                      xanchor=xanchor, yanchor="middle", font=dict(family=family, size=size, color="black")))

def box(x0, y0, x1, y1, r=2.5):
    X0, X1, Y0, Y1 = fx(x0), fx(x1), fy(y0), fy(y1)
    rx, ry = r / W, r / H
    path = (f"M {X0+rx},{Y0} L {X1-rx},{Y0} Q {X1},{Y0} {X1},{Y0-ry} L {X1},{Y1+ry} Q {X1},{Y1} {X1-rx},{Y1} "
            f"L {X0+rx},{Y1} Q {X0},{Y1} {X0},{Y1+ry} L {X0},{Y0-ry} Q {X0},{Y0} {X0+rx},{Y0} Z")
    layout["shapes"].append(dict(type="path", path=path, xref="paper", yref="paper", line=dict(color="#d0d0d0", width=2), fillcolor="white"))

def key(x0, x1, y, color):
    layout["shapes"].append(dict(type="line", x0=fx(x0), x1=fx(x1), y0=fy(y), y1=fy(y), xref="paper", yref="paper", line=dict(color=color, width=3.2)))

box(1027, 13.5, 1098, 53)
box(1106.5, 13.5, 1379, 53)
key(1032, 1067, 23, COL_LX)
key(1032, 1067, 41, COL_LZ)
key(1116, 1158, 25, COL_T)
key(1116, 1158, 40, COL_Z)
note("<b><i>ℓ<sub>x</sub></i></b>", 1078, 24, size=14, family="DejaVu Sans", xanchor="left")
note("<b><i>ℓ<sub>z</sub></i></b>", 1078, 43, size=14, family="DejaVu Sans", xanchor="left")
note("Accuracy on T", 1163, 24, size=16.4, xanchor="left")
note("Accuracy on reconstructed Z", 1163, 41, size=16.4, xanchor="left")

note("KPCA", 32, 76, xanchor="left")
note("KDA", 364, 76, xanchor="left")
note("KPCovC (<i>α</i> = 0.10)", 697, 76, xanchor="left")
note("KPC<sub>1</sub>", 163, 362)
note("KDA<sub>1</sub>", 496, 362)
note("KPCov<sub>1</sub>", 829, 362)
note("KPC<sub>2</sub>", 6, 202, angle=-90)
note("KDA<sub>2</sub>", 337, 202, angle=-90)
note("KPCov<sub>2</sub>", 669, 202, angle=-90)
note("Accuracy", 1395, 203, angle=90)
note("<b><i>ℓ</i></b>", 1006, 205, size=34, family="DejaVu Sans")
note("<i>α</i>", 1192, 360, size=36, family="DejaVu Sans")

fig.update_layout(**layout)
fig.write_html("out.html", config={"displayModeBar": False}, post_script="document.body.style.margin='0';")
